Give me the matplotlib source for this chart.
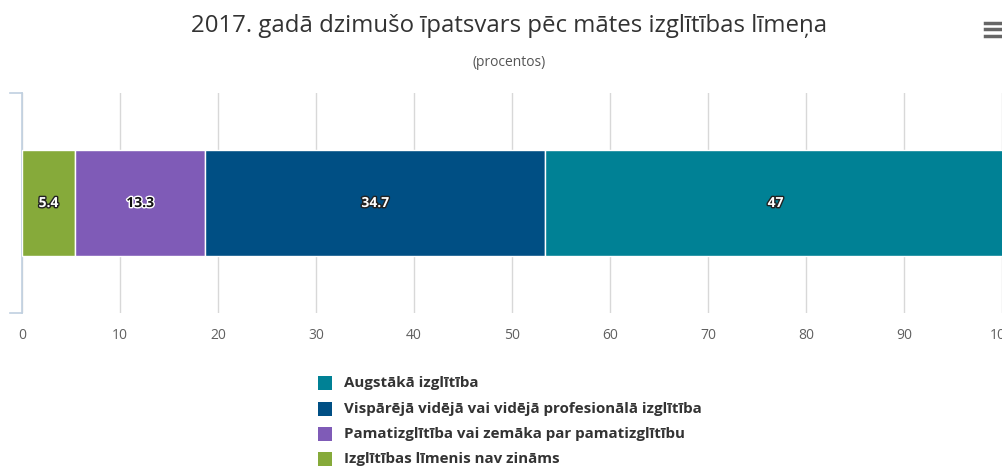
import matplotlib.pyplot as plt
import matplotlib.patheffects as pe
from matplotlib.lines import Line2D
from matplotlib.patches import Rectangle

# dati
categories = ['Izglītības līmenis nav zināms',
              'Pamatizglītība vai zemāka par pamatizglītību',
              'Vispārējā vidējā vai vidējā profesionālā izglītība',
              'Augstākā izglītība']
values = [5.4, 13.3, 34.7, 47]
labels = ['5.4', '13.3', '34.7', '47']
colors = ['#86aa3a', '#7f5bb7', '#004f84', '#008195']
text_dark = [False, True, False, False]
xticks = [0, 10, 20, 30, 40, 50, 60, 70, 80, 90, 100]

plt.rcParams['font.family'] = ['Open Sans', 'DejaVu Sans']

fig = plt.figure(figsize=(10.03, 4.66), dpi=100)
ax = fig.add_axes([22 / 1003, 1 - 313 / 466, 980 / 1003, 220 / 466])

left = 0
for v, lab, c, dark in zip(values, labels, colors, text_dark):
    ax.barh(0, v, left=left, height=0.486, color=c, edgecolor='white', linewidth=1, zorder=3)
    fc, sc = ('#111111', 'white') if dark else ('white', '#222222')
    ax.text(left + v / 2, 0, lab, ha='center', va='center', fontsize=10, fontweight='bold',
            color=fc, zorder=4, path_effects=[pe.withStroke(linewidth=2, foreground=sc)])
    left += v

ax.set_xlim(0, 100)
ax.set_ylim(-0.5, 0.5)
ax.set_xticks(xticks)
ax.set_xticklabels([str(t) for t in xticks], color='#606060', fontsize=10)
ax.tick_params(axis='x', length=0, pad=11)
ax.set_yticks([])
ax.grid(axis='x', color='#d8d8d8', linewidth=1, zorder=0)
for s in ['top', 'right', 'bottom']:
    ax.spines[s].set_visible(False)
ax.spines['left'].set_color('#c0d0e0')
ax.spines['left'].set_linewidth(1.2)
# small bracket ends on the left axis
for yy in (0.5, -0.5):
    ax.add_line(Line2D([-1.2, 0], [yy, yy], color='#c0d0e0', linewidth=1.2, clip_on=False))

fig.text(0.508, 1 - 26 / 466, '2017. gadā dzimušo īpatsvars pēc mātes izglītības līmeņa',
         ha='center', va='center', fontsize=17.3, color='#333333')
fig.text(0.508, 1 - 62 / 466, '(procentos)', ha='center', va='center', fontsize=10, color='#555555')

# izvēlnes ikona
for yy in (23, 29, 36):
    fig.add_artist(Line2D([985 / 1003, 1003 / 1003], [1 - yy / 466] * 2, color='#666666',
                          linewidth=2.5, transform=fig.transFigure))

# leģenda
leg_y = [383, 409, 434, 459]
order = [3, 2, 1, 0]
for yy, i in zip(leg_y, order):
    fig.add_artist(Rectangle((318 / 1003, 1 - (yy + 7) / 466), 14 / 1003, 14 / 466,
                             facecolor=colors[i], edgecolor='none', transform=fig.transFigure))
    fig.text(344 / 1003, 1 - yy / 466, categories[i], ha='left', va='center',
             fontsize=10.9, fontweight='bold', color='#333333')

fig.savefig('out.png', dpi=100)
